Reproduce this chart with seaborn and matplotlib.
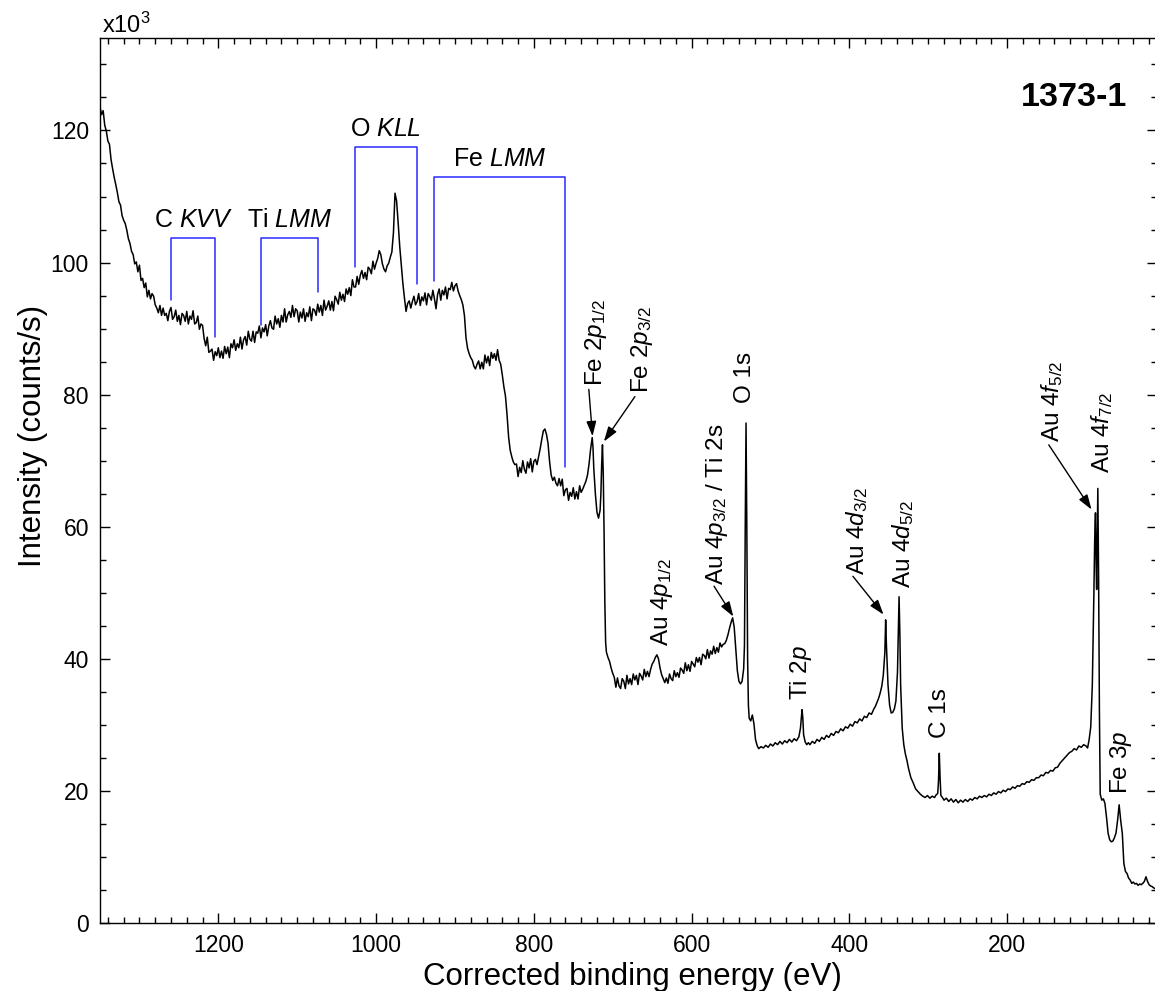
import numpy as np
import pandas as pd
import matplotlib
matplotlib.use("Agg")
import matplotlib.pyplot as plt
from matplotlib.ticker import MultipleLocator
import seaborn as sns

# survey spectrum, binding energy (eV) / intensity (x10^3 counts/s)
energy_bg = [
    1350, 1348, 1346, 1344, 1342, 1340, 1338, 1336, 1334, 1332,
    1330, 1328, 1326, 1324, 1322, 1320, 1318, 1316, 1314, 1312,
    1310, 1308, 1306, 1304, 1302, 1300, 1298, 1296, 1294, 1292,
    1290, 1288, 1286, 1284, 1282, 1280, 1278, 1276, 1274, 1272,
    1270, 1268, 1266, 1264, 1262, 1260, 1258, 1256, 1254, 1252,
    1250, 1248, 1246, 1244, 1242, 1240, 1238, 1236, 1234, 1232,
    1230, 1228, 1226, 1224, 1222, 1220, 1218, 1216, 1214, 1212,
    1210, 1208, 1206, 1204, 1202, 1200, 1198, 1196, 1194, 1192,
    1190, 1188, 1186, 1184, 1182, 1180, 1178, 1176, 1174, 1172,
    1170, 1168, 1166, 1164, 1162, 1160, 1158, 1156, 1154, 1152,
    1150, 1148, 1146, 1144, 1142, 1140, 1138, 1136, 1134, 1132,
    1130, 1128, 1126, 1124, 1122, 1120, 1118, 1116, 1114, 1112,
    1110, 1108, 1106, 1104, 1102, 1100, 1098, 1096, 1094, 1092,
    1090, 1088, 1086, 1084, 1082, 1080, 1078, 1076, 1074, 1072,
    1070, 1068, 1066, 1064, 1062, 1060, 1058, 1056, 1054, 1052,
    1050, 1048, 1046, 1044, 1042, 1040, 1038, 1036, 1034, 1032,
    1030, 1028, 1026, 1024, 1022, 1020, 1018, 1016, 1014, 1012,
    1010, 1008, 1006, 1004, 1002, 1000,
]
counts_bg = [
    123.5, 122.4, 123.0, 120.8, 119.9, 118.4, 117.9, 115.6, 114.2, 112.9,
    111.8, 110.6, 109.2, 108.7, 107.1, 106.4, 105.9, 104.9, 103.6, 102.9,
    101.7, 101.2, 99.8, 100.1, 98.6, 99.6, 97.3, 97.6, 96.2, 96.9,
    94.8, 95.8, 94.5, 95.3, 94.9, 93.6, 93.1, 92.4, 93.5, 92.0,
    93.1, 92.0, 92.3, 91.2, 92.6, 93.2, 91.4, 91.8, 92.8, 91.1,
    92.0, 90.6, 92.3, 92.0, 91.1, 92.6, 90.7, 91.9, 91.4, 92.7,
    90.7, 90.9, 91.9, 89.9, 90.7, 90.5, 88.5, 87.4, 88.7, 86.4,
    86.6, 86.9, 85.2, 86.5, 85.9, 87.1, 85.6, 86.6, 85.5, 87.3,
    86.2, 87.2, 85.6, 87.7, 87.1, 88.3, 86.7, 87.7, 87.1, 88.7,
    86.9, 88.3, 88.8, 87.5, 89.6, 88.4, 88.1, 89.6, 87.9, 89.5,
    89.3, 90.4, 88.6, 90.1, 89.5, 90.6, 88.9, 90.4, 91.2, 90.1,
    89.9, 91.9, 90.7, 91.5, 90.2, 92.0, 91.0, 93.0, 91.0, 92.1,
    92.6, 91.7, 93.5, 91.8, 93.0, 92.7, 91.0, 92.5, 91.6, 93.0,
    91.1, 92.4, 91.8, 93.3, 91.2, 93.0, 92.8, 92.0, 93.7, 92.5,
    93.5, 92.0, 94.3, 92.8, 93.4, 94.2, 92.8, 94.1, 92.7, 94.9,
    94.4, 93.7, 95.5, 94.3, 95.2, 94.1, 96.0, 95.2, 96.2, 95.0,
    97.4, 96.3, 96.3, 97.9, 96.7, 98.1, 98.8, 97.6, 98.5, 97.4,
    99.3, 99.0, 98.3, 100.2, 99.0, 99.9,
]

energy_auger = [
    998, 996, 994, 992, 990, 988, 986, 984, 982, 980,
    978, 976, 974, 972, 970, 968, 966, 964, 962, 960,
    958, 956, 954, 952, 950, 948, 946, 944, 942, 940,
    938, 936, 934, 932, 930, 928, 926, 924, 922, 920,
    918, 916, 914, 912, 910, 908, 906, 904, 902, 900,
    898, 896, 894, 892, 890, 888, 886, 884, 882, 880,
    878, 876, 874, 872, 870, 868, 866, 864, 862, 860,
    858, 856, 854, 852, 850, 848, 846, 844, 842, 840,
    838, 836, 834, 832, 830, 828, 826, 824, 822, 820,
    818, 816, 814, 812, 810, 808, 806, 804, 802, 800,
    798, 796, 794, 792, 790, 788, 786, 784, 782, 780,
    778, 776, 774, 772, 770, 768, 766, 764, 762, 760,
    758, 756, 754, 752, 750, 748, 746, 744, 742, 740,
    738, 736, 734, 732, 730, 728, 726, 725, 724, 722,
    720, 718, 716, 715, 714, 713, 712, 711, 710, 709,
    708,
]
counts_auger = [
    100.6, 101.8, 101.2, 99.8, 99.0, 98.6, 99.5, 99.9, 100.8, 101.6,
    104.5, 110.5, 109.3, 106.0, 102.4, 99.6, 96.8, 94.6, 92.6, 93.8,
    94.2, 93.1, 94.1, 94.9, 93.6, 94.1, 95.3, 93.5, 94.8, 94.2,
    95.4, 93.6, 95.3, 94.9, 94.3, 95.8, 94.5, 93.0, 95.2, 96.0,
    94.3, 95.8, 95.1, 96.3, 94.5, 96.1, 95.9, 97.0, 95.7, 96.5,
    96.8, 95.7, 95.0, 94.4, 93.6, 92.0, 88.6, 87.0, 86.2, 85.6,
    85.2, 84.3, 83.9, 84.6, 85.1, 83.9, 84.9, 83.9, 86.0, 84.8,
    85.8, 84.4, 86.4, 85.5, 86.2, 85.2, 86.8, 85.2, 84.6, 83.0,
    81.2, 79.8, 77.0, 73.6, 71.6, 70.6, 69.8, 69.4, 69.5, 67.6,
    69.0, 68.2, 70.0, 68.7, 68.1, 69.8, 68.9, 70.3, 68.3, 69.9,
    70.2, 69.4, 70.6, 71.8, 73.2, 74.5, 74.8, 74.0, 72.6, 69.8,
    67.8, 67.0, 67.5, 66.6, 66.2, 67.3, 66.2, 67.2, 64.7, 65.6,
    65.8, 64.0, 65.2, 64.6, 65.9, 64.2, 65.3, 64.2, 66.2, 65.2,
    65.7, 66.3, 66.9, 67.8, 69.5, 71.8, 73.5, 72.0, 68.8, 65.0,
    62.2, 61.3, 62.5, 65.0, 69.5, 72.4, 68.0, 59.5, 48.5, 42.5,
    41.0,
]

energy_au4p = [
    706, 704, 702, 700, 698, 696, 694, 692, 690, 688,
    686, 684, 682, 680, 678, 676, 674, 672, 670, 668,
    666, 664, 662, 660, 658, 656, 654, 652, 650, 648,
    646, 644, 642, 640, 638, 636, 634, 632, 630, 628,
    626, 624, 622, 620, 618, 616, 614, 612, 610, 608,
    606, 604, 602, 600, 598, 596, 594, 592, 590, 588,
    586, 584, 582, 580, 578, 576, 574, 572, 570, 568,
    566, 564, 562, 560, 558, 556, 554, 552, 550, 548,
    546, 544, 542, 540, 538, 536, 534,
]
counts_au4p = [
    40.2, 39.6, 38.6, 37.8, 37.2, 35.7, 37.1, 35.9, 35.5, 37.0,
    36.6, 35.5, 37.5, 36.2, 37.0, 36.1, 37.7, 36.8, 37.5, 36.1,
    37.8, 37.4, 36.8, 38.4, 37.3, 38.1, 37.3, 38.4, 39.2, 39.6,
    40.2, 40.6, 40.0, 38.6, 37.6, 37.0, 36.4, 37.1, 36.3, 37.7,
    37.0, 36.7, 38.2, 37.3, 37.9, 37.2, 38.6, 38.3, 37.8, 39.4,
    38.2, 39.1, 38.1, 39.6, 39.2, 38.8, 40.2, 39.5, 40.2, 39.1,
    40.7, 40.5, 40.0, 41.4, 40.1, 41.2, 40.7, 41.9, 40.8, 41.7,
    41.0, 42.4, 41.8, 42.2, 42.3, 42.8, 43.6, 44.6, 45.5, 46.2,
    44.8, 41.5, 38.2, 36.6, 36.2, 36.6, 38.5,
]

energy_core = [
    533, 532, 531, 530, 529, 528, 527, 525, 523, 521,
    519, 517, 515, 512, 509, 506, 503, 500, 497, 494,
    491, 488, 485, 482, 479, 476, 473, 470, 467, 464,
    462, 460, 459, 458, 456, 454, 452, 450, 447, 444,
    441, 438, 435, 432, 429, 426, 423, 420, 417, 414,
    411, 408, 405, 402, 399, 396, 393, 390, 387, 384,
    381, 378, 375, 372, 369, 367, 365, 363, 361, 359,
    357, 355, 354, 353, 351, 349, 347, 345, 343, 341,
    339, 338, 337, 336, 335, 333, 331, 329, 327, 325,
    322, 319, 316, 313, 310, 307, 304, 301, 298, 295,
    292, 290, 288, 287, 286, 285, 284, 282, 280, 277,
    274, 271, 268, 265, 262, 259, 256, 253, 250, 247,
    244, 241, 238, 235, 232, 229, 226, 223, 220, 217,
    214, 211, 208, 205, 202, 199, 196, 193, 190, 187,
    184, 181, 178, 175, 172, 169, 166, 163, 160, 157,
    154, 151, 148, 145, 142, 139, 136, 133, 130, 127,
    124, 121, 118, 115, 112, 109, 106, 103, 100,
]
counts_core = [
    42.0, 60.0, 75.7, 60.0, 40.0, 33.0, 31.0, 30.6, 31.5, 30.2,
    27.8, 26.9, 26.4, 26.7, 26.5, 26.9, 26.6, 27.1, 26.8, 27.3,
    27.0, 27.5, 27.1, 27.6, 27.3, 27.8, 27.4, 27.9, 27.6, 28.2,
    29.5, 32.3, 31.0, 28.5, 27.4, 27.0, 27.3, 27.0, 27.5, 27.2,
    27.8, 27.5, 28.1, 27.8, 28.4, 28.1, 28.7, 28.4, 29.0, 28.8,
    29.4, 29.1, 29.7, 29.5, 30.1, 29.8, 30.5, 30.3, 30.9, 30.6,
    31.3, 31.1, 31.8, 31.6, 32.4, 32.8, 33.4, 34.0, 34.8, 35.8,
    37.5, 41.0, 45.9, 42.0, 36.0, 33.0, 31.8, 31.9, 32.4, 33.6,
    38.0, 44.0, 49.4, 44.0, 36.0, 29.5, 27.0, 25.6, 24.6, 23.4,
    22.0, 21.2, 20.3, 19.9, 19.5, 19.2, 19.0, 19.3, 18.9, 19.2,
    19.0, 19.4, 19.6, 21.5, 25.7, 22.0, 19.3, 19.0, 18.6, 18.9,
    18.4, 18.8, 18.3, 18.7, 18.2, 18.6, 18.3, 18.7, 18.4, 18.8,
    18.6, 19.0, 18.8, 19.2, 19.0, 19.3, 19.1, 19.5, 19.3, 19.7,
    19.5, 19.9, 19.7, 20.1, 19.9, 20.3, 20.2, 20.6, 20.4, 20.8,
    20.7, 21.1, 21.0, 21.4, 21.3, 21.7, 21.6, 22.0, 22.0, 22.4,
    22.3, 22.8, 22.7, 23.1, 23.0, 23.5, 23.6, 24.2, 24.6, 25.0,
    25.4, 25.8, 26.0, 26.4, 26.2, 26.8, 26.6, 27.0, 26.8,
]

energy_low = [
    98, 96, 94, 92, 90, 89, 88, 87, 86.5, 86,
    85, 84, 83, 82, 80, 78, 76, 74, 72, 70,
    68, 66, 64, 62, 60, 58, 56, 54, 52, 50,
    48, 46, 44, 42, 40, 38, 36, 34, 32, 30,
    28, 26, 24, 22, 20, 18, 16, 14, 12, 10,
]
counts_low = [
    26.5, 27.8, 29.7, 36.0, 50.0, 58.0, 62.1, 53.0, 50.5, 56.0,
    65.8, 52.0, 32.0, 19.5, 18.6, 18.8, 18.1, 16.0, 13.6, 12.6,
    12.3, 12.4, 12.9, 13.6, 15.5, 17.9, 15.5, 13.6, 9.0, 7.8,
    7.5, 6.8, 6.5, 6.0, 6.2, 5.9, 6.0, 5.7, 5.9, 5.8,
    6.0, 6.3, 7.0, 6.3, 5.8, 5.6, 5.5, 5.3, 5.2, 5.1,
]

# Auger groups: label, bracket ends (eV), bracket top and the two lower ends (x10^3)
auger_labels = [r"C $\mathit{KVV}$", r"Ti $\mathit{LMM}$", r"O $\mathit{KLL}$", r"Fe $\mathit{LMM}$"]
auger_left = [1260, 1146, 1026.5, 926]
auger_right = [1204, 1073, 948.6, 760]
auger_top = [103.7, 103.7, 117.5, 112.9]
auger_left_end = [94.4, 90.6, 99.4, 97.2]
auger_right_end = [88.8, 95.5, 96.7, 69.0]

# photoelectron peak labels (rotated)
peak_labels = [r"Fe 2$p_{1/2}$", r"Fe 2$p_{3/2}$", "O 1s", r"Au 4$p_{3/2}$ / Ti 2s",
               r"Au 4$p_{1/2}$", r"Ti 2$p$", r"Au 4$d_{3/2}$", r"Au 4$d_{5/2}$", "C 1s",
               r"Au 4$f_{5/2}$", r"Au 4$f_{7/2}$", r"Fe 3$p$"]
peak_label_e = [721.7, 663.4, 532.2, 568.2, 637.0, 461.0, 390.4, 332.3, 284.7, 142.9, 79.4, 55.2]
peak_label_i = [81.3, 80.2, 78.7, 51.2, 41.9, 33.8, 52.7, 50.7, 28.0, 72.9, 68.1, 19.6]

# arrows: tail -> tip
arrow_tail = [(730.3, 80.8), (671.9, 79.7), (571.6, 51.0), (395.5, 52.5), (147.2, 72.4)]
arrow_tip = [(725.6, 73.7), (711.2, 72.9), (547.1, 46.4), (356.7, 46.7), (93.0, 62.6)]

spec = pd.DataFrame({
    "energy": np.concatenate([energy_bg, energy_auger, energy_au4p, energy_core, energy_low]),
    "counts": np.concatenate([counts_bg, counts_auger, counts_au4p, counts_core, counts_low]),
})

sns.set_style("ticks", rc={"axes.edgecolor": "black", "xtick.color": "black",
                           "ytick.color": "black", "text.color": "black",
                           "axes.labelcolor": "black"})
plt.rcParams["font.family"] = ["Liberation Sans", "DejaVu Sans"]
plt.rcParams["mathtext.fontset"] = "custom"
plt.rcParams["mathtext.rm"] = "Liberation Sans"
plt.rcParams["mathtext.it"] = "Liberation Sans:italic"
plt.rcParams["mathtext.bf"] = "Liberation Sans:bold"

fig = plt.figure(figsize=(11.55, 9.91), dpi=100)
ax = fig.add_axes([100 / 1155, 68 / 991, 1057 / 1155, 885 / 991])

sns.lineplot(data=spec, x="energy", y="counts", ax=ax, color="black", lw=1.1,
             estimator=None, sort=True)

ax.set_xlim(1350, 10)
ax.set_ylim(0, 134)
ax.xaxis.set_major_locator(MultipleLocator(200))
ax.xaxis.set_minor_locator(MultipleLocator(20))
ax.yaxis.set_major_locator(MultipleLocator(20))
ax.yaxis.set_minor_locator(MultipleLocator(5))
ax.tick_params(which="both", direction="in", top=True, right=True, width=1.0)
ax.tick_params(which="major", length=7, labelsize=16.5, pad=8)
ax.tick_params(which="minor", length=4)
for s in ax.spines.values():
    s.set_linewidth(1.0)
    s.set_visible(True)

ax.set_xlabel("Corrected binding energy (eV)", fontsize=22.5)
ax.set_ylabel("Intensity (counts/s)", fontsize=22.5)
ax.xaxis.set_label_coords(0.504, -0.044)
ax.yaxis.set_label_coords(-0.049, 0.55)

ax.text(0.0016, 1.0053, r"x10$^3$", transform=ax.transAxes, fontsize=17,
        ha="left", va="baseline")
ax.text(47.7, 123.7, "1373-1", fontsize=24.5, fontweight="bold", ha="right", va="baseline")

for lab, l, r, top, le, re in zip(auger_labels, auger_left, auger_right, auger_top,
                                   auger_left_end, auger_right_end):
    ax.plot([l, l, r, r], [le, top, top, re], color="#2a2aff", lw=1.1)
    ax.text((l + r) / 2, top + 1.7, lab, fontsize=18, ha="center", va="baseline")

for lab, e, i in zip(peak_labels, peak_label_e, peak_label_i):
    ax.text(e, i, lab, fontsize=17.5, rotation=90, ha="center", va="bottom")

for tail, tip in zip(arrow_tail, arrow_tip):
    ax.annotate("", xy=tip, xytext=tail,
                arrowprops=dict(arrowstyle="-|>,head_length=0.6,head_width=0.2",
                                color="black", lw=1.0, mutation_scale=15,
                                shrinkA=0, shrinkB=0))

fig.savefig("out.png", dpi=100)
